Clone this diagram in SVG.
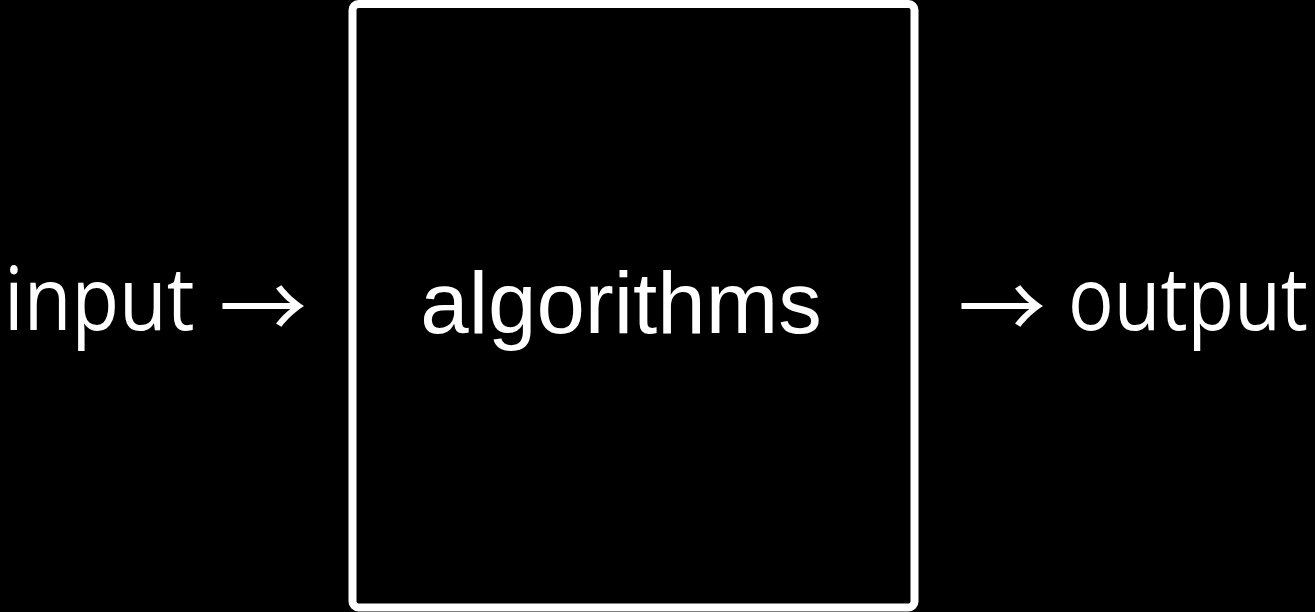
<svg xmlns="http://www.w3.org/2000/svg" width="1315" height="612" viewBox="0 0 1315 612">
<style>
.lbl{fill:#fff;font-family:"Open Sans","Noto Sans",sans-serif;font-size:88px}
.arr{fill:#fff;font-family:"Noto Sans CJK SC","DejaVu Sans",sans-serif;font-size:88px}
.alg{fill:#fff;font-family:"Liberation Sans",Arial,sans-serif;font-size:87px}
</style>
<rect width="1315" height="612" fill="#000"/>
<g id="input">
<text class="lbl" transform="translate(4,330) scale(0.885,1)">input</text>
<text class="arr" x="219" y="339">→</text>
</g>
<g id="algorithms">
<rect x="352.5" y="4" width="562" height="603.5" rx="6" fill="#000" stroke="#fff" stroke-width="8"/>
<text class="alg" x="621" y="333" text-anchor="middle">algorithms</text>
</g>
<g id="output">
<text class="arr" x="958" y="339">→</text>
<text class="lbl" transform="translate(1068,330) scale(0.865,1)">output</text>
</g>
<g id="connectors"></g>
</svg>
